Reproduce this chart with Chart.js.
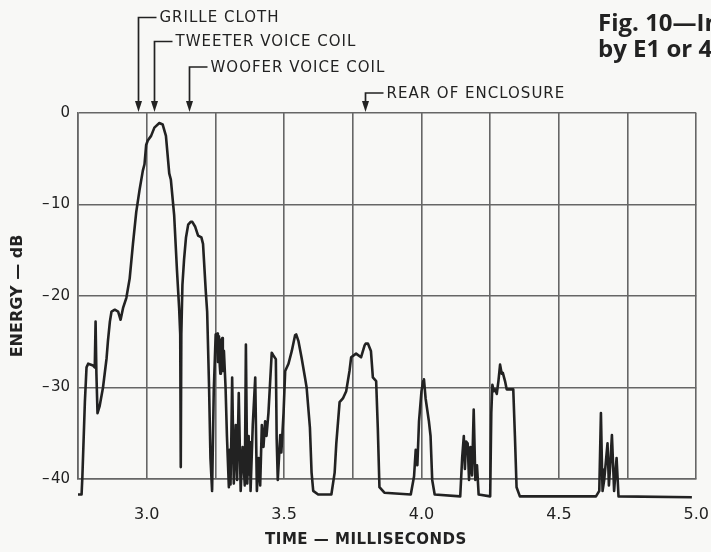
<!DOCTYPE html>
<html>
<head>
<meta charset="utf-8">
<script src="https://cdn.jsdelivr.net/npm/chart.js@4.4.1/dist/chart.umd.min.js"></script>
<style>
  html, body { margin: 0; padding: 0; background: #f8f8f6; }
  #wrap { width: 711px; height: 552px; position: relative; }
</style>
</head>
<body>
<div id="wrap"><canvas id="myChart"></canvas></div>
<script>
// time axis in milliseconds, energy in dB
const timeMs = [
    2.750, 2.763, 2.766, 2.775, 2.781, 2.787, 2.805, 2.811, 2.814, 2.817,
    2.821, 2.829, 2.841, 2.854, 2.859, 2.866, 2.872, 2.884, 2.896, 2.905,
    2.914, 2.926, 2.938, 2.950, 2.962, 2.974, 2.986, 2.992, 2.998, 3.004,
    3.016, 3.028, 3.046, 3.058, 3.070, 3.082, 3.088, 3.100, 3.110, 3.118,
    3.122, 3.124, 3.126, 3.130, 3.136, 3.143, 3.151, 3.160, 3.166, 3.176,
    3.187, 3.199, 3.205, 3.215, 3.220, 3.227, 3.232, 3.238, 3.244, 3.251,
    3.257, 3.259, 3.263, 3.266, 3.268, 3.270, 3.275, 3.277, 3.281, 3.287,
    3.292, 3.299, 3.302, 3.305, 3.308, 3.311, 3.317, 3.324, 3.329, 3.335,
    3.342, 3.349, 3.357, 3.361, 3.366, 3.371, 3.374, 3.376, 3.378, 3.386,
    3.395, 3.401, 3.407, 3.413, 3.419, 3.425, 3.431, 3.436, 3.443, 3.455,
    3.461, 3.470, 3.473, 3.477, 3.486, 3.490, 3.498, 3.504, 3.516, 3.528,
    3.540, 3.544, 3.552, 3.564, 3.576, 3.582, 3.594, 3.600, 3.606, 3.624,
    3.672, 3.684, 3.690, 3.702, 3.714, 3.726, 3.738, 3.744, 3.762, 3.780,
    3.793, 3.797, 3.805, 3.816, 3.823, 3.835, 3.841, 3.847, 3.865, 3.961,
    3.973, 3.979, 3.985, 3.991, 4.000, 4.006, 4.009, 4.015, 4.027, 4.033,
    4.039, 4.048, 4.141, 4.148, 4.154, 4.158, 4.162, 4.168, 4.173, 4.178,
    4.184, 4.190, 4.196, 4.202, 4.208, 4.250, 4.254, 4.258, 4.263, 4.268,
    4.274, 4.280, 4.286, 4.292, 4.296, 4.304, 4.310, 4.334, 4.340, 4.346,
    4.358, 4.635, 4.647, 4.653, 4.657, 4.659, 4.665, 4.677, 4.682, 4.686,
    4.693, 4.701, 4.710, 4.717, 4.984
];
const energyDb = [
    -41.7, -41.7, -39.7, -31.6, -27.8, -27.4, -27.6, -27.8, -22.8, -28.5,
    -32.8, -32.0, -30.0, -26.8, -24.9, -22.8, -21.7, -21.5, -21.7, -22.6,
    -21.3, -20.2, -18.1, -14.3, -10.8, -8.4, -6.3, -5.6, -3.5, -3.0,
    -2.5, -1.6, -1.1, -1.25, -2.5, -6.6, -7.3, -11.2, -17.1, -21.3,
    -24.2, -38.7, -24.2, -18.8, -16.0, -13.6, -12.2, -11.9, -11.9, -12.4,
    -13.4, -13.6, -14.3, -19.5, -21.7, -30.0, -37.7, -41.3, -30.4, -24.2,
    -24.1, -27.2, -24.4, -27.6, -28.5, -24.9, -24.6, -28.2, -26.0, -30.0,
    -35.3, -40.9, -36.8, -40.6, -35.5, -28.9, -40.5, -34.1, -40.1, -30.6,
    -41.3, -36.5, -40.7, -25.3, -40.5, -35.3, -39.5, -36.0, -41.3, -34.1,
    -28.9, -41.3, -37.7, -40.7, -34.1, -36.5, -33.7, -35.3, -32.8, -26.2,
    -26.5, -26.9, -35.6, -40.1, -35.2, -37.1, -32.8, -28.2, -27.4, -26.0,
    -24.3, -24.2, -24.9, -26.8, -28.9, -30.0, -34.4, -39.3, -41.3, -41.7,
    -41.7, -39.3, -36.1, -31.6, -31.2, -30.4, -28.2, -26.7, -26.3, -26.7,
    -25.4, -25.2, -25.2, -26.0, -28.9, -29.3, -34.4, -40.9, -41.5, -41.7,
    -39.7, -36.8, -38.5, -33.7, -30.4, -29.3, -29.1, -31.2, -33.7, -35.3,
    -40.1, -41.7, -41.9, -37.7, -35.3, -38.9, -35.9, -36.1, -40.1, -36.5,
    -39.6, -32.4, -40.1, -38.5, -41.7, -41.9, -32.8, -29.7, -30.4, -30.2,
    -30.7, -29.3, -27.5, -28.5, -28.4, -29.3, -30.2, -30.2, -35.3, -40.9,
    -41.9, -41.9, -41.3, -32.8, -38.9, -41.3, -40.1, -36.1, -40.7, -38.9,
    -35.2, -41.3, -37.7, -41.9, -42.0
];

// labelled arrows above the plot
const markerTimes = [2.967, 3.028, 3.154, 3.794];
const markerLabels = ['GRILLE CLOTH', 'TWEETER VOICE COIL', 'WOOFER VOICE COIL', 'REAR OF ENCLOSURE'];

const xTickLabels = ['3.0', '3.5', '4.0', '4.5', '5.0'];

const ink = '#222';
const gridInk = '#666';
const font = '"DejaVu Sans", sans-serif';

const extras = {
    id: 'extras',
    afterDraw(chart) {
        const ctx = chart.ctx;
        const xs = chart.scales.x;
        const top = chart.chartArea.top;
        const rows = [17.5, 41.5, 67, 93];
        ctx.save();
        ctx.strokeStyle = ink;
        ctx.fillStyle = ink;
        ctx.lineWidth = 1.7;
        ctx.font = '15px ' + font;
        ctx.letterSpacing = '1px';
        ctx.textBaseline = 'middle';
        ctx.textAlign = 'left';
        markerTimes.forEach((t, i) => {
            const px = Math.round(xs.getPixelForValue(t)) + 0.5;
            const py = rows[i];
            ctx.beginPath();
            ctx.moveTo(px + 18, py);
            ctx.lineTo(px, py);
            ctx.lineTo(px, top - 8);
            ctx.stroke();
            ctx.beginPath();
            ctx.moveTo(px - 3.5, top - 12);
            ctx.lineTo(px + 3.5, top - 12);
            ctx.lineTo(px, top - 1);
            ctx.closePath();
            ctx.fill();
            ctx.fillText(markerLabels[i], px + 21, py + 1);
        });

        ctx.letterSpacing = '0.5px';
        ctx.font = 'bold 15px ' + font;
        ctx.textAlign = 'center';
        ctx.fillText('TIME \u2014 MILLISECONDS', 366, 540);

        ctx.letterSpacing = '0px';
        ctx.textAlign = 'left';
        ctx.font = 'bold 24px "Open Sans", sans-serif';
        ctx.fillText('Fig. 10\u2014In', 598, 24);
        ctx.fillText('by E1 or 41', 598, 50);
        ctx.restore();
    }
};

const config = {
    type: 'line',
    data: {
        datasets: [
            {
                label: 'Energy',
                data: timeMs.map((t, i) => ({ x: t, y: energyDb[i] })),
                borderColor: ink,
                borderWidth: 2.6,
                borderJoinStyle: 'round',
                pointRadius: 0,
                tension: 0,
                fill: false,
                clip: false,
            },
        ],
    },
    options: {
        responsive: true,
        maintainAspectRatio: false,
        animation: false,
        events: [],
        layout: {
            padding: { left: 0, top: 113, right: 10, bottom: 0 },
        },
        plugins: {
            legend: false,
            tooltip: { enabled: false },
        },
        scales: {
            x: {
                type: 'linear',
                min: 2.75,
                max: 5.0,
                afterFit: (scale) => { scale.height = 73; },
                border: { display: true, color: gridInk, width: 1.6 },
                grid: {
                    color: gridInk,
                    lineWidth: 1.6,
                    drawTicks: true,
                    tickLength: 24,
                    tickColor: 'rgba(0,0,0,0)',
                },
                ticks: {
                    stepSize: 0.25,
                    padding: 2,
                    maxRotation: 0,
                    autoSkip: false,
                    color: ink,
                    font: { family: font, size: 16 },
                    callback: (v) => {
                        const s = v.toFixed(1);
                        return xTickLabels.includes(s) && Math.abs(v * 2 - Math.round(v * 2)) < 1e-6 ? s : '';
                    },
                },
            },
            y: {
                min: -40,
                max: 0,
                afterFit: (scale) => { scale.width = 78; },
                border: { display: true, color: gridInk, width: 1.6 },
                grid: { color: gridInk, lineWidth: 1.6, drawTicks: false },
                ticks: {
                    stepSize: 10,
                    padding: 8,
                    color: ink,
                    font: { family: font, size: 15 },
                    callback: (v) => (v < 0 ? '\u2013\u200A' + Math.abs(v) : '0'),
                },
                title: {
                    display: true,
                    text: 'ENERGY \u2014 dB',
                    color: ink,
                    font: { family: font, size: 16, weight: 'bold' },
                    padding: { top: 8, bottom: 0 },
                },
            },
        },
    },
    plugins: [extras],
};

var myChart = new Chart(document.getElementById('myChart'), config);
</script>
</body>
</html>
